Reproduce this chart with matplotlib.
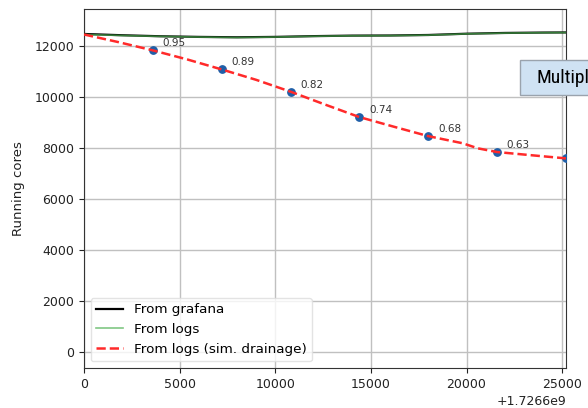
import matplotlib
matplotlib.use("Agg")
import matplotlib.pyplot as plt
from matplotlib.patches import Rectangle
from matplotlib import font_manager
import numpy as np

T0 = 1.7266e9

# Grafana / logs running cores (seconds after T0)
grafana_t = [0, 2000, 4000, 6000, 8000, 10000, 12000, 14000, 16000, 18000, 20000, 22000, 24000, 25200]
grafana_v = [12490, 12440, 12400, 12375, 12360, 12375, 12405, 12425, 12430, 12450, 12500, 12530, 12545, 12550]
logs_t = [0, 2000, 4000, 6000, 8000, 10000, 12000, 14000, 16000, 18000, 20000, 22000, 24000, 25200]
logs_v = [12470, 12430, 12395, 12370, 12350, 12370, 12400, 12420, 12425, 12445, 12495, 12525, 12540, 12545]

# Simulated drainage curve
drain_t = [0, 1800, 3600, 5400, 7200, 9000, 10800, 12600, 14400, 16200, 18000, 19800, 20600, 21600, 23400, 25200]
drain_v = [12470, 12170, 11846, 11490, 11098, 10690, 10225, 9720, 9228, 8850, 8480, 8200, 8000, 7856, 7730, 7607]

# Hourly points and their fractions
pt_t = [3600, 7200, 10800, 14400, 18000, 21600, 25200]
pt_v = [11846, 11098, 10225, 9228, 8480, 7856, 7607]
pt_labels = ["0.95", "0.89", "0.82", "0.74", "0.68", "0.63"]

box_text = "Multipl"

fig = plt.figure(figsize=(5.88, 4.08), dpi=100)
ax = fig.add_axes([84/588, 1-368/408, (566-84)/588, (368-9)/408])

ax.plot(T0 + np.array(grafana_t), grafana_v, color="black", lw=1.6, label="From grafana", zorder=3)
ax.plot(T0 + np.array(logs_t), logs_v, color="#4caf50", lw=1.2, alpha=0.7, label="From logs", zorder=4)
ax.scatter(T0 + np.array(pt_t), pt_v, s=28, color="#1f5fa8", zorder=4)
ax.plot(T0 + np.array(drain_t), drain_v, color="#ff2a2a", lw=1.8, ls="--", label="From logs (sim. drainage)", zorder=5)

for t, v, lab in zip(pt_t, pt_v, pt_labels):
    ax.annotate(lab, (T0 + t, v), xytext=(7, 5), textcoords="offset points",
                fontsize=7.5, color="#333333", va="center", ha="left")

ax.set_xlim(T0, T0 + 25200)
ax.set_ylim(-620, 13470)
ax.set_xticks(T0 + np.array([0, 5000, 10000, 15000, 20000, 25000]))
ax.set_yticks([0, 2000, 4000, 6000, 8000, 10000, 12000])
ax.tick_params(labelsize=9, colors="#222222")
ax.grid(True, color="#c0c0c0", lw=1)
ax.set_axisbelow(True)
ax.set_ylabel("Running cores", fontsize=9.5, color="#222222", labelpad=7)
ax.xaxis.get_offset_text().set_fontsize(9)
for s in ax.spines.values():
    s.set_color("#333333")

ax.legend(loc="lower left", fontsize=9.7, framealpha=0.8, edgecolor="#dddddd",
          borderaxespad=0.5, handlelength=2.0)

# overlapping slide text box
names = {f.name for f in font_manager.fontManager.ttflist}
fam = "DejaVu Sans"
fs = 11.5
for cand in ["DejaVu Sans Condensed", "Liberation Sans Narrow", "Roboto Condensed"]:
    if cand in names:
        fam = cand
        fs = 14
        break
fig.patches.append(Rectangle((520/588, 1-95/408), 0.2, 35/408, transform=fig.transFigure,
                             facecolor="#cfe2f3", edgecolor="#9aa3ad", lw=1, zorder=10))
fig.text(536/588, 1-78/408, box_text, fontsize=fs, va="center", ha="left",
         family=[fam, "DejaVu Sans"], color="black", zorder=11)

fig.savefig("out.png", dpi=100)
